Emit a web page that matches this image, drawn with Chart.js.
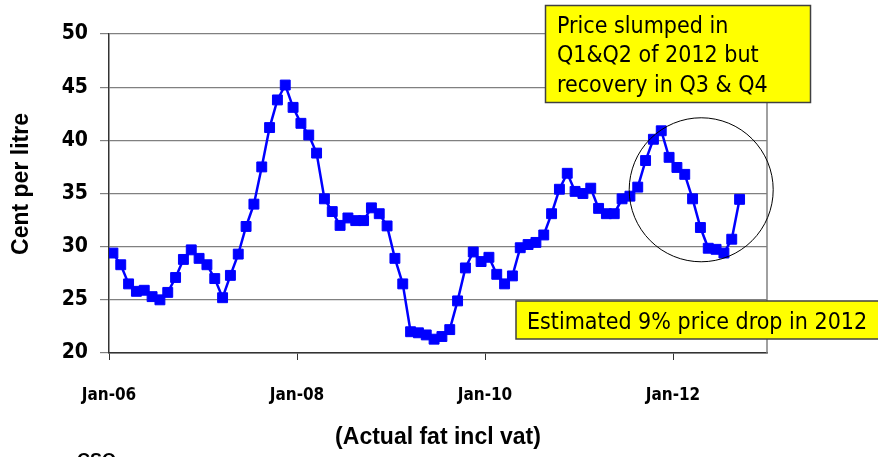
<!DOCTYPE html>
<html>
<head>
<meta charset="utf-8">
<script src="https://cdn.jsdelivr.net/npm/chart.js@4.4.0/dist/chart.umd.min.js"></script>
<style>
  html, body { margin: 0; padding: 0; background: #fff; }
  #wrap { width: 878px; height: 457px; }
</style>
</head>
<body>
<div id="wrap"><canvas id="chart" width="878" height="457"></canvas></div>
<script>
// monthly milk price, Jan-06 .. Sep-12 (cent per litre)
const tickLabels = ['Jan-06', 'Jan-08', 'Jan-10', 'Jan-12'];
const monthsPerTick = 24;
const prices = [
  29.4, 28.3, 26.5, 25.8, 25.9, 25.3, 25.0, 25.7, 27.1, 28.8, 29.7, 28.9,   // 2006
  28.3, 27.0, 25.2, 27.3, 29.3, 31.9, 34.0, 37.5, 41.2, 43.8, 45.2, 43.1,   // 2007
  41.6, 40.5, 38.8, 34.5, 33.3, 32.0, 32.7, 32.45, 32.45, 33.65, 33.1, 31.95, // 2008
  28.9, 26.5, 22.0, 21.9, 21.7, 21.3, 21.55, 22.2, 24.9, 28.0, 29.5, 28.6,  // 2009
  29.0, 27.4, 26.5, 27.25, 29.9, 30.2, 30.4, 31.1, 33.1, 35.4, 36.9, 35.2,  // 2010
  35.0, 35.5, 33.6, 33.1, 33.1, 34.5, 34.75, 35.6, 38.1, 40.1, 40.9, 38.4,  // 2011
  37.45, 36.8, 34.5, 31.8, 29.85, 29.75, 29.4, 30.7, 34.45                  // 2012
];
const yTitle = 'Cent per litre';
const xTitle = '(Actual fat incl vat)';
const noteTop = ['Price slumped in', 'Q1&Q2 of 2012 but', 'recovery in Q3 & Q4'];
const noteBottom = 'Estimated 9% price drop in 2012';
const sourceText = 'CSO';

const tickFont = '"DejaVu Sans Condensed", "DejaVu Sans", sans-serif';
const titleFont = '"Liberation Sans", Arial, sans-serif';

// annotations, yTitle, source
const extras = {
  id: 'extras',
  afterDraw(chart) {
    const ctx = chart.ctx, a = chart.chartArea;
    const xs = chart.scales.x, ys = chart.scales.y;
    ctx.save();

    // right frame line
    ctx.strokeStyle = '#808080';
    ctx.lineWidth = 1.5;
    ctx.beginPath();
    ctx.moveTo(a.right, a.top);
    ctx.lineTo(a.right, a.bottom);
    ctx.stroke();

    // circle round 2012
    ctx.strokeStyle = '#000';
    ctx.lineWidth = 1;
    ctx.beginPath();
    ctx.arc(xs.getPixelForValue(75.6), ys.getPixelForValue(35.35), 72, 0, Math.PI * 2);
    ctx.stroke();

    // yellow boxes
    ctx.fillStyle = '#ffff00';
    ctx.strokeStyle = '#404040';
    ctx.lineWidth = 1.5;
    ctx.fillRect(545.5, 5.5, 265, 97);
    ctx.strokeRect(545.5, 5.5, 265, 97);
    ctx.fillRect(516, 301, 380, 38);
    ctx.strokeRect(516, 301, 380, 38);

    ctx.fillStyle = '#000';
    ctx.font = '23px ' + tickFont;
    ctx.textAlign = 'left';
    ctx.textBaseline = 'alphabetic';
    noteTop.forEach((t, i) => ctx.fillText(t, 557, 33 + i * 29.3));
    ctx.fillText(noteBottom, 527, 329);

    // y title
    ctx.font = 'bold 23px ' + titleFont;
    ctx.textAlign = 'center';
    ctx.textBaseline = 'middle';
    ctx.translate(22, 184);
    ctx.rotate(-Math.PI / 2);
    ctx.fillText(yTitle, 0, 0);
    ctx.setTransform(1, 0, 0, 1, 0, 0);

    // source (cut off at bottom)
    ctx.font = 'bold 18px ' + titleFont;
    ctx.textAlign = 'left';
    ctx.textBaseline = 'alphabetic';
    ctx.fillText(sourceText, 77, 466);
    ctx.restore();
  }
};

new Chart(document.getElementById('chart'), {
  type: 'line',
  data: {
    datasets: [{
      data: prices.map((v, i) => ({ x: i + 0.5, y: v })),
      borderColor: '#0000ff',
      backgroundColor: '#0000ff',
      borderWidth: 2.5,
      pointStyle: 'rect',
      pointRadius: 7,
      pointBorderWidth: 1,
      tension: 0
    }]
  },
  options: {
    responsive: false,
    animation: false,
    devicePixelRatio: 1,
    layout: { padding: { top: 34, right: 111, left: 0, bottom: 0 } },
    plugins: { legend: { display: false }, tooltip: { enabled: false } },
    scales: {
      x: {
        type: 'linear',
        min: 0,
        max: 84,
        afterFit: s => { s.height = 104; },
        grid: { drawOnChartArea: false, drawTicks: true, tickLength: 7, color: '#333', lineWidth: 1 },
        border: { color: '#333', width: 1.5 },
        ticks: {
          stepSize: monthsPerTick,
          includeBounds: false,
          autoSkip: false,
          maxRotation: 0,
          padding: 25,
          color: '#000',
          font: { family: tickFont, weight: 'bold', size: 17 },
          callback: v => tickLabels[v / monthsPerTick] ?? ''
        },
        title: {
          display: true,
          text: xTitle,
          color: '#000',
          font: { family: titleFont, weight: 'bold', size: 23 },
          padding: { top: 0, bottom: 6 }
        }
      },
      y: {
        min: 20,
        max: 50,
        afterFit: s => { s.width = 109; },
        grid: { color: '#808080', lineWidth: 1.2, drawTicks: true, tickLength: 9 },
        border: { color: '#333', width: 1.5 },
        ticks: {
          stepSize: 5,
          padding: 12,
          color: '#000',
          font: { family: tickFont, weight: 'bold', size: 21 }
        }
      }
    }
  },
  plugins: [extras]
});
</script>
</body>
</html>
